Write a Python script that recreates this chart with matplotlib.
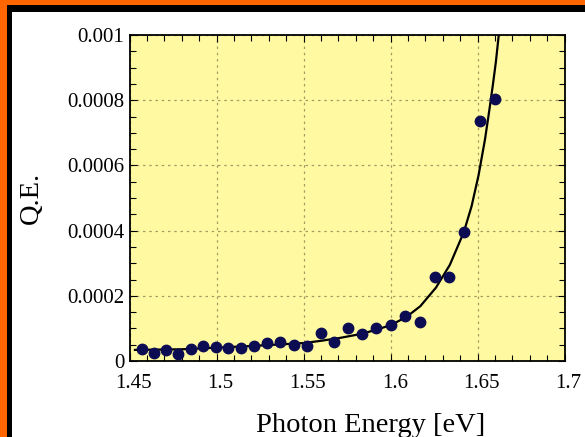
import numpy as np
import matplotlib
matplotlib.use("Agg")
import matplotlib.pyplot as plt
from matplotlib.patches import Rectangle
from matplotlib.ticker import MultipleLocator
from matplotlib.transforms import ScaledTranslation

# measured quantum efficiency vs photon energy
energy = [1.4571, 1.4640, 1.4709, 1.4779, 1.4850, 1.4922, 1.4994, 1.5067, 1.5140,
          1.5215, 1.5290, 1.5366, 1.5442, 1.5519, 1.5597, 1.5676, 1.5756, 1.5837,
          1.5918, 1.6000, 1.6083, 1.6167, 1.6252, 1.6337, 1.6424, 1.6511, 1.6600]
qe = [0.000037, 0.000026, 0.000035, 0.000022, 0.000036, 0.000046, 0.000043, 0.000039,
      0.000040, 0.000046, 0.000054, 0.000058, 0.000050, 0.000046, 0.000085, 0.000058,
      0.000100, 0.000082, 0.000100, 0.000110, 0.000138, 0.000120, 0.000259, 0.000259,
      0.000397, 0.000737, 0.000804]

# fitted curve
fit_energy = [1.453, 1.48, 1.50, 1.52, 1.55, 1.56, 1.57, 1.58, 1.59, 1.60, 1.609,
              1.617, 1.626, 1.634, 1.642, 1.6465, 1.6505, 1.6542, 1.6567, 1.6588,
              1.6605, 1.6621]
fit_qe = [0.000034, 0.000036, 0.000041, 0.000046, 0.000055, 0.000062, 0.000070,
          0.000080, 0.000093, 0.000110, 0.000135, 0.000168, 0.000225, 0.000295,
          0.000395, 0.000475, 0.000570, 0.000680, 0.000770, 0.000850, 0.000920,
          0.001000]

xticks = [1.45, 1.5, 1.55, 1.6, 1.65, 1.7]
xticklabels = ["1.45", "1.5", "1.55", "1.6", "1.65", "1.7"]
yticks = [0, 0.0002, 0.0004, 0.0006, 0.0008, 0.001]
yticklabels = ["0", "0.0002", "0.0004", "0.0006", "0.0008", "0.001"]

plt.rcParams["font.family"] = "Liberation Serif"

fig = plt.figure(figsize=(5.85, 4.37), dpi=100)
fig.patch.set_facecolor("white")

# orange and black frame on top and left
W, H = 585.0, 437.0
fig.patches.append(Rectangle((0, 1 - 12 / H), 1, 12 / H, transform=fig.transFigure,
                             facecolor="black", edgecolor="none", zorder=0))
fig.patches.append(Rectangle((0, 0), 12 / W, 1, transform=fig.transFigure,
                             facecolor="black", edgecolor="none", zorder=0))
fig.patches.append(Rectangle((0, 1 - 5 / H), 1, 5 / H, transform=fig.transFigure,
                             facecolor="#ff6600", edgecolor="none", zorder=1))
fig.patches.append(Rectangle((0, 0), 7 / W, 1, transform=fig.transFigure,
                             facecolor="#ff6600", edgecolor="none", zorder=1))

ax = fig.add_axes([129.7 / W, 76 / H, 435 / W, 326 / H])
ax.set_facecolor("#fffaa2")

ax.plot(fit_energy, fit_qe, color="black", lw=1.6, zorder=3)
ax.plot(energy, qe, "o", color="#0c0c52", ms=7.5, mec="#0c0c52", zorder=4)

ax.set_xlim(1.45, 1.7)
ax.set_ylim(0, 0.001)
ax.set_xticks(xticks)
ax.set_xticklabels(xticklabels)
ax.set_yticks(yticks)
ax.set_yticklabels(yticklabels)
ax.xaxis.set_minor_locator(MultipleLocator(0.01))
ax.yaxis.set_minor_locator(MultipleLocator(0.00005))
ax.tick_params(which="both", direction="in", top=True, right=True, width=0.8,
               labelsize=15, colors="black")
ax.tick_params(which="major", length=5)
ax.tick_params(which="minor", length=4)
ax.tick_params(axis="x", pad=9)
ax.tick_params(axis="y", pad=4)
for lab in ax.get_xticklabels():
    lab.set_transform(lab.get_transform() + ScaledTranslation(4 / 100, 0, fig.dpi_scale_trans))

ax.grid(True, which="major", color="#a39c62", lw=0.9, linestyle=(0, (2, 3)))
for s in ax.spines.values():
    s.set_linewidth(1.3)

ax.set_xlabel("Photon Energy [eV]", fontsize=20.5)
ax.xaxis.set_label_coords(0.555, -0.158)
ax.set_ylabel("Q.E.", fontsize=20.5)
ax.yaxis.set_label_coords(-0.197, 0.5)

fig.savefig("out.png", dpi=100)
